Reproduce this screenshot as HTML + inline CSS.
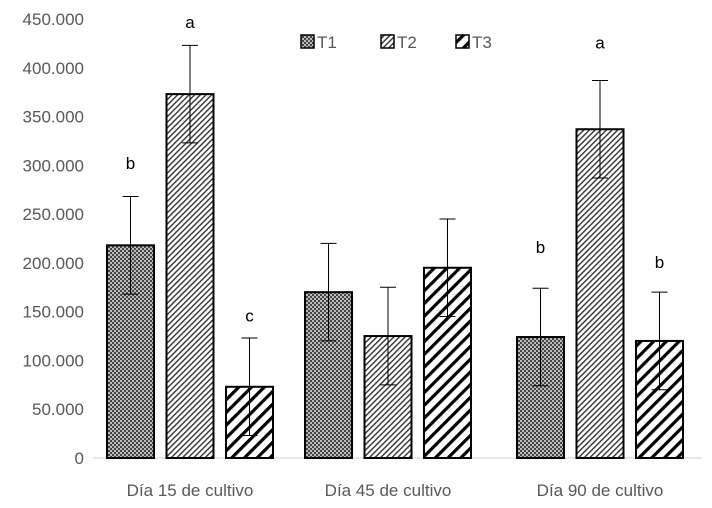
<!DOCTYPE html>
<html><head><meta charset="utf-8"><style>
body{margin:0;background:#fff;}
svg{display:block;font-family:"Liberation Sans",sans-serif;}
</style></head><body>
<svg id="chart" width="712" height="508">
<defs>
<pattern id="pT1" width="4" height="4" patternUnits="userSpaceOnUse">
<rect width="4" height="4" fill="#444"/><rect width="2" height="2" fill="#bbb"/><rect x="2" y="2" width="2" height="2" fill="#bbb"/>
</pattern>
<pattern id="pT2" width="4" height="4" patternUnits="userSpaceOnUse" patternTransform="rotate(45)">
<rect width="4" height="4" fill="#fff"/><rect width="1.4" height="4" fill="#333"/>
</pattern>
<pattern id="pT3" width="9" height="9" patternUnits="userSpaceOnUse" patternTransform="rotate(45)">
<rect width="9" height="9" fill="#fff"/><rect width="3.2" height="9" fill="#000"/>
</pattern>
</defs>
<g id="plot"></g>
</svg>
<script>
const categories=["Día 15 de cultivo","Día 45 de cultivo","Día 90 de cultivo"];
const seriesNames=["T1","T2","T3"];
const t1=[218,170,124];
const t2=[373,125,337];
const t3=[73,195,120];
const errors=[[50,50,50],[50,50,50],[50,50,50]];
const letters=[["b","","b"],["a","","a"],["c","","b"]];
const letterLevels=[[296,0,210],[441,0,420],[140,0,195]];
const yTicks=[0,50,100,150,200,250,300,350,400,450];
const yTickLabels=["0","50.000","100.000","150.000","200.000","250.000","300.000","350.000","400.000","450.000"];

const NS="http://www.w3.org/2000/svg";
const g=document.getElementById('plot');
const y0=458,yTop=19,yMax=450;
const y=v=>y0-(v/yMax)*(y0-yTop);
const groupCenters=[190,388,600];
const x=(ci,si)=>groupCenters[ci]+(si-1)*59.5;
function mk(t,a){const e=document.createElementNS(NS,t);for(const k in a)e.setAttribute(k,a[k]);g.appendChild(e);return e;}
yTicks.forEach((v,i)=>{
  const t=mk('text',{x:84,y:y(v)+6,'text-anchor':'end','font-size':17,fill:'#595959'});
  t.textContent=yTickLabels[i];
  
  
});
const ax=mk('line',{x1:93,x2:702,y1:y0,y2:y0,stroke:'#d0d0d0','stroke-width':1});


const series=[t1,t2,t3];
series.forEach((vals,si)=>{
  vals.forEach((v,ci)=>{
    const cx=x(ci,si);
    const r=mk('rect',{x:cx-23.5,y:y(v),width:47,height:y0-y(v),fill:'url(#pT'+(si+1)+')',stroke:'#000','stroke-width':2});
    
    
    const e=errors[si][ci];
    const eb=mk('path',{d:`M${cx},${y(v-e)}V${y(v+e)}M${cx-8},${y(v+e)}H${cx+8}M${cx-8},${y(v-e)}H${cx+8}`,stroke:'#000','stroke-width':1,fill:'none'});
    
    
    if(letters[si][ci]){
      const l=mk('text',{x:cx,y:y(letterLevels[si][ci]),'text-anchor':'middle','font-size':17,fill:'#000'});
      l.textContent=letters[si][ci];
      
      
    }
  });
});
categories.forEach((c,ci)=>{
  const t=mk('text',{x:x(ci,1),y:496,'text-anchor':'middle','font-size':17,fill:'#595959'});
  t.textContent=c;
  
  
});
const legX=[301,381,456];
seriesNames.forEach((n,i)=>{
  const b=mk('rect',{x:legX[i],y:35,width:13,height:13,fill:'url(#pT'+(i+1)+')',stroke:'#000','stroke-width':1.5});
  
  
  const t=mk('text',{x:legX[i]+16,y:48,'font-size':17,fill:'#595959'});
  t.textContent=n;
  
  
});
</script>
</body></html>
